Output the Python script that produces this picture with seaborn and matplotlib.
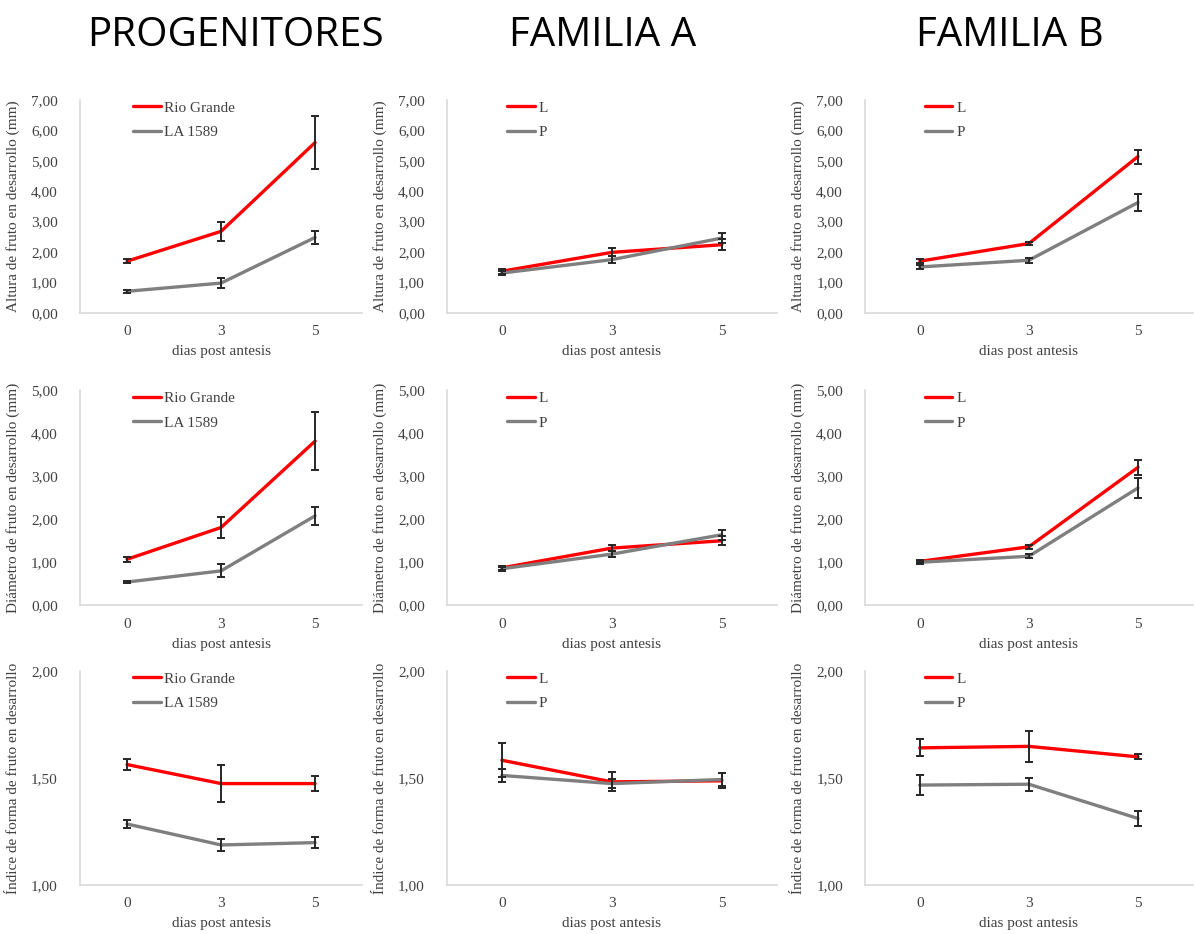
"""
Crecimiento del fruto en desarrollo: progenitores y familias A y B.
Altura, diametro e indice de forma a 0, 3 y 5 dias post antesis.
"""

# import libraries
import matplotlib
matplotlib.use('Agg')
import matplotlib.pyplot as plt
import matplotlib.ticker as mticker
import seaborn as sns
import pandas as pd

# datos (media, error)
dias = ['0', '3', '5']

# altura (mm)
alt_prog_rg = [1.70, 2.68, 5.60]
alt_prog_rg_err = [0.07, 0.31, 0.88]
alt_prog_la = [0.71, 0.98, 2.48]
alt_prog_la_err = [0.04, 0.17, 0.21]
alt_famA_L = [1.37, 1.99, 2.24]
alt_famA_L_err = [0.08, 0.13, 0.18]
alt_famA_P = [1.31, 1.75, 2.46]
alt_famA_P_err = [0.07, 0.12, 0.16]
alt_famB_L = [1.70, 2.28, 5.14]
alt_famB_L_err = [0.07, 0.06, 0.23]
alt_famB_P = [1.51, 1.73, 3.63]
alt_famB_P_err = [0.08, 0.08, 0.28]

# diametro (mm)
dia_prog_rg = [1.07, 1.81, 3.82]
dia_prog_rg_err = [0.06, 0.25, 0.68]
dia_prog_la = [0.54, 0.80, 2.08]
dia_prog_la_err = [0.03, 0.15, 0.21]
dia_famA_L = [0.87, 1.33, 1.50]
dia_famA_L_err = [0.05, 0.07, 0.10]
dia_famA_P = [0.85, 1.19, 1.64]
dia_famA_P_err = [0.05, 0.07, 0.12]
dia_famB_L = [1.02, 1.36, 3.21]
dia_famB_L_err = [0.04, 0.05, 0.18]
dia_famB_P = [1.00, 1.14, 2.73]
dia_famB_P_err = [0.04, 0.05, 0.23]

# indice de forma
ind_prog_rg = [1.563, 1.474, 1.474]
ind_prog_rg_err = [0.026, 0.085, 0.036]
ind_prog_la = [1.285, 1.187, 1.198]
ind_prog_la_err = [0.020, 0.030, 0.025]
ind_famA_L = [1.583, 1.482, 1.487]
ind_famA_L_err = [0.080, 0.045, 0.035]
ind_famA_P = [1.512, 1.474, 1.493]
ind_famA_P_err = [0.030, 0.020, 0.030]
ind_famB_L = [1.641, 1.648, 1.599]
ind_famB_L_err = [0.040, 0.073, 0.012]
ind_famB_P = [1.467, 1.471, 1.311]
ind_famB_P_err = [0.047, 0.030, 0.035]

titulos = ['PROGENITORES', 'FAMILIA A', 'FAMILIA B']
nombres_prog = ['Rio Grande', 'LA 1589']
nombres_fam = ['L', 'P']
ylabels = ['Altura de fruto en desarrollo (mm)',
           'Diámetro de fruto en desarrollo (mm)',
           'Índice de forma de fruto en desarrollo']
yticks = [[0, 1, 2, 3, 4, 5, 6, 7],
          [0, 1, 2, 3, 4, 5],
          [1.0, 1.5, 2.0]]

RED = '#ff0000'
GREY = '#7f7f7f'
SERIF = ['Liberation Serif', 'DejaVu Serif']


def panel(ax, a, a_err, b, b_err, nombres, ylab, ticks):
    df = pd.DataFrame({'dia': dias * 2,
                       'valor': a + b,
                       'err': a_err + b_err,
                       'serie': [nombres[0]] * 3 + [nombres[1]] * 3})
    sns.lineplot(data=df, x='dia', y='valor', hue='serie',
                 palette=[RED, GREY], linewidth=2.4, sort=False, ax=ax)
    for nombre in nombres:
        d = df[df['serie'] == nombre]
        ax.errorbar(d['dia'], d['valor'], yerr=d['err'], fmt='none',
                    ecolor='#262626', elinewidth=1.4, capsize=3,
                    capthick=1.4, zorder=5)

    ax.set_xlim(-0.5, 2.5)
    ax.set_ylim(ticks[0], ticks[-1])
    ax.set_yticks(ticks)
    ax.yaxis.set_major_formatter(
        mticker.FuncFormatter(lambda v, p: f'{v:.2f}'.replace('.', ',')))
    ax.tick_params(axis='y', length=0, labelsize=11, colors='#404040', pad=16)
    ax.tick_params(axis='x', length=0, labelsize=11, colors='#404040', pad=9)
    for lab in ax.get_xticklabels() + ax.get_yticklabels():
        lab.set_family(SERIF)
    ax.set_xlabel('dias post antesis', fontsize=11, family=SERIF,
                  color='#404040', labelpad=5)
    ax.set_ylabel(ylab, fontsize=11, family=SERIF, color='#404040',
                  labelpad=8)
    for s in ['top', 'right']:
        ax.spines[s].set_visible(False)
    for s in ['left', 'bottom']:
        ax.spines[s].set_color('#d9d9d9')
        ax.spines[s].set_linewidth(1.2)
    ax.grid(False)
    leg = ax.legend(loc='upper left', bbox_to_anchor=(0.15, 1.045),
                    frameon=False, handlelength=1.8, handletextpad=0.25,
                    labelspacing=0.7, borderaxespad=0.3,
                    prop={'family': SERIF, 'size': 11})
    for t in leg.get_texts():
        t.set_color('#404040')
    for ln in leg.get_lines():
        ln.set_linewidth(2.4)


def plotFruto():

    sns.set_theme(style='white')
    fig = plt.figure(figsize=(11.95, 9.34), dpi=100)

    lefts = [0.067, 0.374, 0.724]
    widths = [0.236, 0.276, 0.274]
    bottoms = [0.665, 0.352, 0.0525]
    heights = [0.228, 0.230, 0.229]

    datos = [
        [(alt_prog_rg, alt_prog_rg_err, alt_prog_la, alt_prog_la_err),
         (alt_famA_L, alt_famA_L_err, alt_famA_P, alt_famA_P_err),
         (alt_famB_L, alt_famB_L_err, alt_famB_P, alt_famB_P_err)],
        [(dia_prog_rg, dia_prog_rg_err, dia_prog_la, dia_prog_la_err),
         (dia_famA_L, dia_famA_L_err, dia_famA_P, dia_famA_P_err),
         (dia_famB_L, dia_famB_L_err, dia_famB_P, dia_famB_P_err)],
        [(ind_prog_rg, ind_prog_rg_err, ind_prog_la, ind_prog_la_err),
         (ind_famA_L, ind_famA_L_err, ind_famA_P, ind_famA_P_err),
         (ind_famB_L, ind_famB_L_err, ind_famB_P, ind_famB_P_err)],
    ]

    for r in range(3):
        for c in range(3):
            ax = fig.add_axes([lefts[c], bottoms[r], widths[c], heights[r]])
            nombres = nombres_prog if c == 0 else nombres_fam
            a, ae, b, be = datos[r][c]
            panel(ax, a, ae, b, be, nombres, ylabels[r], yticks[r])

    centros = [235 / 1195, 603 / 1195, 1010 / 1195]
    for t, xc in zip(titulos, centros):
        fig.text(xc, 1 - 36 / 934, t, ha='center', va='center', fontsize=29,
                 family=['Liberation Sans Narrow', 'Open Sans', 'DejaVu Sans'],
                 color='black')

    fig.savefig('out.png', dpi=100, facecolor='white')


if __name__ == '__main__':
    plotFruto()
